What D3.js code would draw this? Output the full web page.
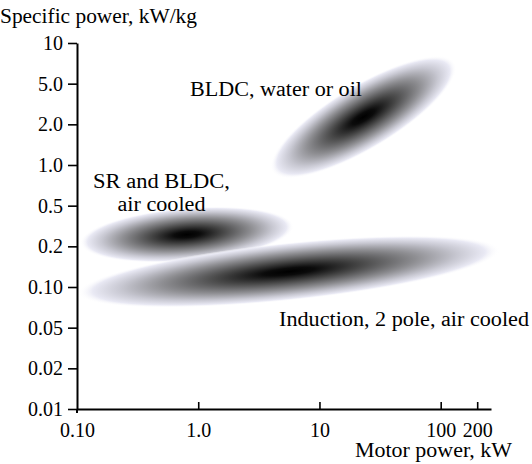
<!DOCTYPE html>
<html>
<head>
<meta charset="utf-8">
<script src="https://cdn.jsdelivr.net/npm/d3@7"></script>
<style>
  body { margin: 0; background: #fff; }
</style>
</head>
<body>
<div id="chart"></div>
<script>
/*---------- données ----------*/

// graduations de l'axe Y (espacées régulièrement sur la figure)
var yTicks = [0.01, 0.02, 0.05, 0.10, 0.2, 0.5, 1.0, 2.0, 5.0, 10];
var yLabels = ["0.01", "0.02", "0.05", "0.10", "0.2", "0.5", "1.0", "2.0", "5.0", "10"];
// graduations de l'axe X (log)
var xTicks = [0.1, 1, 10, 100, 200];
var xLabels = ["0.10", "1.0", "10", "100", "200"];

// zones : extrémités du grand axe (kW, kW/kg) et rapport petit axe / grand axe
var zoneNames = ["SR and BLDC, air cooled", "Induction, 2 pole, air cooled", "BLDC, water or oil"];
var zoneStart = [[0.106, 0.215], [0.102, 0.090], [4.05, 0.89]];
var zoneEnd   = [[6.15, 0.316], [307, 0.188], [131, 7.2]];
var zoneRatio = [0.25, 0.137, 0.30];

// étiquettes des zones : coin gauche de la première ligne (kW, kW/kg)
var labelLines = [["SR and BLDC,", "air cooled"], ["Induction, 2 pole, air cooled"], ["BLDC, water or oil"]];
var labelPos = [[0.1355, 0.675], [4.64, 0.0515], [0.855, 3.8]];
var labelWidths = [[137, 88], [250], [172]];

/*---------- dessin ----------*/

var width = 532, height = 464;
var x0 = 77, x1 = 491, y0 = 409, y1 = 43;
var serif = "'Liberation Serif', 'DejaVu Serif', 'Noto Serif', serif";

var svg = d3.select("#chart").append("svg")
    .attr("width", width)
    .attr("height", height);

var xScale = d3.scaleLog()
    .domain([0.1, 260])
    .range([x0, x1]);

var yScale = d3.scaleLog()
    .domain(yTicks)
    .range(yTicks.map(function(d, i) { return y0 + (y1 - y0) * i / (yTicks.length - 1); }));

// dégradé radial (noir au centre, blanc bleuté sur le bord)
var defs = svg.append("defs");
var grad = defs.append("radialGradient").attr("id", "blob");
[
    [0, "#000000", 1],
    [0.12, "#0b0b0b", 1],
    [0.35, "#4a4a4a", 1],
    [0.6, "#8e8e92", 1],
    [0.8, "#c8c8d2", 1],
    [0.93, "#e9e9f4", 1],
    [1, "#ffffff", 0]
].forEach(function(s) {
    grad.append("stop")
        .attr("offset", s[0])
        .attr("stop-color", s[1])
        .attr("stop-opacity", s[2]);
});

// zones en ellipses
var zones = zoneNames.map(function(n, i) {
    var ax = xScale(zoneStart[i][0]), ay = yScale(zoneStart[i][1]);
    var bx = xScale(zoneEnd[i][0]), by = yScale(zoneEnd[i][1]);
    var len = Math.sqrt((bx - ax) * (bx - ax) + (by - ay) * (by - ay));
    return {
        name: n,
        cx: (ax + bx) / 2,
        cy: (ay + by) / 2,
        rx: len / 2,
        ry: len / 2 * zoneRatio[i],
        angle: Math.atan2(by - ay, bx - ax) * 180 / Math.PI
    };
});

svg.append("g").selectAll("ellipse")
    .data(zones)
    .enter()
    .append("ellipse")
    .attr("cx", 0)
    .attr("cy", 0)
    .attr("rx", d => d.rx)
    .attr("ry", d => d.ry)
    .attr("transform", d => "translate(" + d.cx + "," + d.cy + ") rotate(" + d.angle + ")")
    .style("fill", "url(#blob)");

// axe Y
var yAxis = svg.append("g")
    .attr("transform", "translate(" + x0 + ",0)")
    .call(d3.axisLeft(yScale)
        .tickValues(yTicks)
        .tickFormat(function(d, i) { return yLabels[i]; })
        .tickSizeInner(9)
        .tickSizeOuter(0)
        .tickPadding(5));

// axe X
var xAxis = svg.append("g")
    .attr("transform", "translate(0," + y0 + ")")
    .call(d3.axisBottom(xScale)
        .tickValues(xTicks)
        .tickFormat(function(d, i) { return xLabels[i]; })
        .tickSizeInner(-7)
        .tickSizeOuter(0)
        .tickPadding(14));

svg.selectAll("g").attr("font-family", null).attr("font-size", null);
svg.selectAll(".domain").attr("stroke", "#000").attr("stroke-width", 2);
svg.selectAll(".tick line").attr("stroke", "#000").attr("stroke-width", 1.6);
svg.selectAll(".tick text").style("font-family", serif).style("font-size", "20px").attr("fill", "#000");
xAxis.selectAll(".tick").filter(d => d === 0.1).select("line").remove();

// petit dépassement de l'axe Y sous l'origine
svg.append("line")
    .attr("x1", x0).attr("x2", x0)
    .attr("y1", y0).attr("y2", y0 + 4)
    .attr("stroke", "#000").attr("stroke-width", 2);

// titres des axes
svg.append("text")
    .attr("x", 0)
    .attr("y", 23)
    .attr("textLength", 197)
    .attr("lengthAdjust", "spacingAndGlyphs")
    .style("font-family", serif)
    .style("font-size", "20px")
    .text("Specific power, kW/kg");

svg.append("text")
    .attr("x", 355)
    .attr("y", 457)
    .attr("textLength", 157)
    .attr("lengthAdjust", "spacingAndGlyphs")
    .style("font-family", serif)
    .style("font-size", "20px")
    .text("Motor power, kW");

// étiquettes des zones
labelLines.forEach(function(lines, i) {
    var left = xScale(labelPos[i][0]);
    lines.forEach(function(l, j) {
        var w = labelWidths[i][j];
        // lignes centrées sur la première
        var x = j === 0 ? left : left + (labelWidths[i][0] - w) / 2;
        svg.append("text")
            .attr("x", x)
            .attr("y", yScale(labelPos[i][1]) + j * 23)
            .attr("textLength", w)
            .attr("lengthAdjust", "spacingAndGlyphs")
            .style("font-family", serif)
            .style("font-size", "20px")
            .text(l);
    });
});
</script>
</body>
</html>
